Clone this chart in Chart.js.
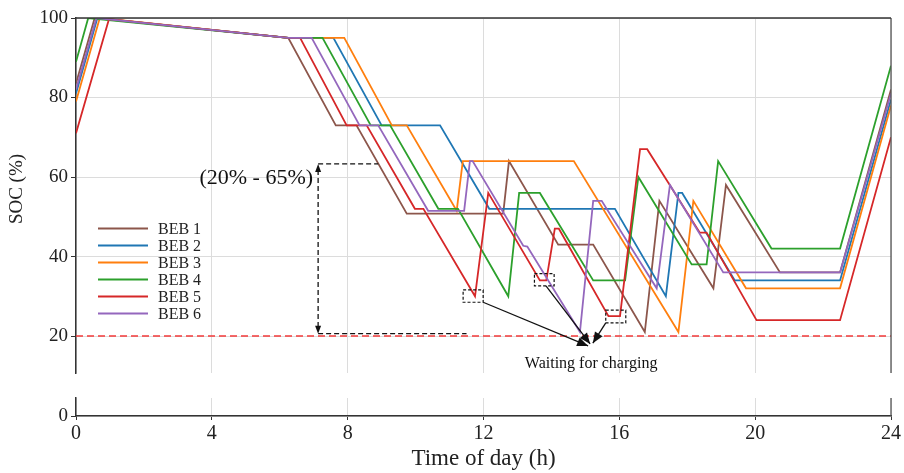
<!DOCTYPE html>
<html><head><meta charset="utf-8">
<script src="https://cdn.jsdelivr.net/npm/chart.js@4.4.1/dist/chart.umd.min.js"></script>
<style>
html,body{margin:0;padding:0;background:#fff;}
#wrap{position:relative;width:904px;height:473px;overflow:hidden;}
canvas{position:absolute;left:0;}
#top{top:0;width:904px;height:380px;}
#bot{top:380px;width:904px;height:93px;}
</style></head><body>
<div id="wrap"><canvas id="top" width="904" height="380"></canvas><canvas id="bot" width="904" height="93"></canvas></div>
<script>
// ---------- data ----------
const seriesNames  = ['BEB 1','BEB 2','BEB 3','BEB 4','BEB 5','BEB 6'];
const seriesColors = ['#8c564b','#1f77b4','#ff7f0e','#2ca02c','#d62728','#9467bd'];

const beb1Hours = [0, 0.55, 6.25, 7.65, 8.26, 9.74, 12.58, 12.75, 14.2, 15.23, 16.75, 17.18, 18.77, 19.14, 20.73, 22.5, 24];
const beb1Soc   = [83.5, 100, 95, 73, 73, 50.8, 50.8, 64, 43, 43, 21, 54, 32, 58, 36, 36, 82];

const beb2Hours = [0, 0.63, 6.25, 7.58, 9.0, 10.72, 12.17, 15.87, 17.37, 17.74, 17.85, 19.4, 22.5, 24];
const beb2Soc   = [81, 100, 95, 95, 73, 73, 52, 52, 30, 56, 56, 34, 34, 79.5];

const beb3Hours = [0, 0.7, 6.25, 7.9, 9.3, 9.74, 11.21, 11.39, 14.66, 17.74, 18.18, 19.73, 22.5, 24];
const beb3Soc   = [79, 100, 95, 95, 73, 73, 51.5, 64, 64, 21, 54, 32, 32, 78];

const beb4Hours = [0, 0.36, 6.25, 7.26, 8.68, 9.25, 10.67, 11.25, 12.73, 13.05, 13.66, 15.23, 16.17, 16.56, 18.13, 18.57, 18.91, 20.48, 22.5, 24];
const beb4Soc   = [89, 100, 95, 95, 73, 73, 52, 52, 30, 56, 56, 34, 34, 60, 38, 38, 64, 42, 42, 88];

const beb5Hours = [0, 0.97, 6.25, 6.6, 7.97, 8.56, 9.98, 10.23, 11.75, 12.14, 13.66, 13.85, 14.1, 14.22, 15.68, 16.02, 16.61, 16.82, 18.37, 18.57, 20.04, 22.5, 24];
const beb5Soc   = [71, 99.7, 95, 95, 73, 73, 52, 52, 30, 56, 34, 34, 47, 47, 25, 25, 67, 67, 46, 46, 24, 24, 70];

const beb6Hours = [0, 0.6, 6.25, 6.94, 8.35, 8.9, 10.37, 11.43, 11.6, 11.68, 13.17, 13.29, 14.84, 15.23, 15.48, 17.1, 17.49, 19.06, 22.5, 24];
const beb6Soc   = [82, 100, 95, 95, 73, 73, 51.5, 51.5, 64, 64, 42.7, 42.5, 21, 54, 54, 32, 58, 36, 36, 81];

const xTicks      = [0, 4, 8, 12, 16, 20, 24];
const yTicksUpper = [20, 40, 60, 80, 100];
const yTicksLower = [0];
const socLimit    = 20;

// annotation anchors (data units)
const rangeText   = '(20% - 65%)';
const rangeHour   = 7.13, rangeTop = 63.3, rangeBottom = 20.6, rangeTopEnd = 8.9, rangeBottomEnd = 11.5;
const rangeLabelHour = 6.98, rangeLabelSoc = 59.6;
const waitBoxes   = [[11.4, 11.99, 28.5, 31.6], [13.5, 14.08, 32.6, 35.7], [15.6, 16.19, 23.3, 26.5]];
const waitFrom    = [[11.99, 28.5], [13.84, 32.6], [15.6, 23.3]];
const waitTo      = [[15.08, 17.5], [15.14, 18.0], [15.22, 18.2]];
const waitText    = 'Waiting for charging';
const waitTextHour = 15.17, waitTextSoc = 12.9;

// ---------- chart ----------
const FONT = "'Liberation Serif','Times New Roman','DejaVu Serif',serif";
const allHours = [beb1Hours, beb2Hours, beb3Hours, beb4Hours, beb5Hours, beb6Hours];
const allSoc   = [beb1Soc, beb2Soc, beb3Soc, beb4Soc, beb5Soc, beb6Soc];

const datasets = seriesNames.map((name, i) => ({
  label: name,
  data: allHours[i].map((h, j) => ({x: h, y: allSoc[i][j]})),
  borderColor: seriesColors[i],
  backgroundColor: seriesColors[i],
  borderWidth: 1.8,
  pointRadius: 0,
  tension: 0,
  fill: false,
  order: 10 - i
}));

function arrowHead(ctx, x1, y1, x2, y2, len, w) {
  const a = Math.atan2(y2 - y1, x2 - x1);
  ctx.beginPath();
  ctx.moveTo(x2, y2);
  ctx.lineTo(x2 - len * Math.cos(a) + w * Math.sin(a), y2 - len * Math.sin(a) - w * Math.cos(a));
  ctx.lineTo(x2 - len * Math.cos(a) - w * Math.sin(a), y2 - len * Math.sin(a) + w * Math.cos(a));
  ctx.closePath();
  ctx.fill();
}

const frameRight = {
  id: 'frameRight',
  afterDraw(chart, args, opts) {
    const {ctx, chartArea: a} = chart;
    ctx.save();
    ctx.strokeStyle = '#555';
    ctx.lineWidth = 1.3;
    ctx.beginPath();
    ctx.moveTo(a.right, a.top); ctx.lineTo(a.right, a.bottom);
    ctx.stroke();
    if (opts && opts.top) {
      ctx.strokeStyle = '#333';
      ctx.lineWidth = 1.5;
      ctx.beginPath();
      ctx.moveTo(a.left, a.top); ctx.lineTo(a.right, a.top);
      ctx.stroke();
    }
    ctx.restore();
  }
};

const annot = {
  id: 'annot',
  beforeDatasetsDraw(chart) {
    const {ctx, chartArea: a, scales: {y}} = chart;
    ctx.save();
    ctx.strokeStyle = '#f23a3a';
    ctx.lineWidth = 1.6;
    ctx.setLineDash([7, 4]);
    ctx.beginPath();
    ctx.moveTo(a.left, y.getPixelForValue(socLimit));
    ctx.lineTo(a.right, y.getPixelForValue(socLimit));
    ctx.stroke();
    ctx.restore();
  },
  afterDraw(chart) {
    const {ctx, scales: {x, y}} = chart;
    const px = v => x.getPixelForValue(v), py = v => y.getPixelForValue(v);
    ctx.save();
    // range bracket
    ctx.strokeStyle = '#111'; ctx.fillStyle = '#111';
    ctx.lineWidth = 1.3;
    ctx.setLineDash([5, 3]);
    ctx.beginPath();
    ctx.moveTo(px(rangeHour), py(rangeTop) + 6); ctx.lineTo(px(rangeHour), py(rangeBottom) - 6);
    ctx.moveTo(px(rangeHour), py(rangeTop)); ctx.lineTo(px(rangeTopEnd), py(rangeTop));
    ctx.moveTo(px(rangeHour), py(rangeBottom)); ctx.lineTo(px(rangeBottomEnd), py(rangeBottom));
    ctx.stroke();
    ctx.setLineDash([]);
    arrowHead(ctx, px(rangeHour), py(rangeTop) + 10, px(rangeHour), py(rangeTop), 8, 3);
    arrowHead(ctx, px(rangeHour), py(rangeBottom) - 10, px(rangeHour), py(rangeBottom), 8, 3);
    ctx.font = `22px ${FONT}`;
    ctx.textAlign = 'right'; ctx.textBaseline = 'middle';
    ctx.fillText(rangeText, px(rangeLabelHour), py(rangeLabelSoc));
    // waiting boxes
    ctx.lineWidth = 1.2;
    ctx.setLineDash([3, 2]);
    waitBoxes.forEach(b => {
      ctx.strokeRect(px(b[0]), py(b[3]), px(b[1]) - px(b[0]), py(b[2]) - py(b[3]));
    });
    ctx.setLineDash([]);
    ctx.lineWidth = 1.3;
    waitFrom.forEach((f, i) => {
      const t = waitTo[i];
      ctx.beginPath();
      ctx.moveTo(px(f[0]), py(f[1])); ctx.lineTo(px(t[0]), py(t[1]));
      ctx.stroke();
      arrowHead(ctx, px(f[0]), py(f[1]), px(t[0]), py(t[1]), 11, 4.5);
    });
    ctx.font = `16px ${FONT}`;
    ctx.textAlign = 'center'; ctx.textBaseline = 'middle';
    ctx.fillText(waitText, px(waitTextHour), py(waitTextSoc));
    // y title
    ctx.save();
    ctx.translate(17, 189);
    ctx.rotate(-Math.PI / 2);
    ctx.font = `19px ${FONT}`;
    ctx.fillStyle = '#222';
    ctx.fillText('SOC (%)', 0, 0);
    ctx.restore();
    // legend
    ctx.font = `16px ${FONT}`;
    ctx.textAlign = 'left'; ctx.textBaseline = 'middle';
    seriesNames.forEach((n, i) => {
      const ly = 228.5 + i * 17;
      ctx.strokeStyle = seriesColors[i];
      ctx.lineWidth = 2;
      ctx.beginPath(); ctx.moveTo(98, ly); ctx.lineTo(148, ly); ctx.stroke();
      ctx.fillStyle = '#222';
      ctx.fillText(n, 158, ly + 1);
    });
    ctx.restore();
  }
};

const setTicks = arr => s => { s.ticks = arr.map(v => ({value: v})); };
const GRID = '#dcdcdc';

new Chart(document.getElementById('top'), {
  type: 'line',
  data: {datasets},
  options: {
    responsive: false, animation: false, devicePixelRatio: 1,
    layout: {padding: {left: 0, right: 13, top: 18, bottom: 7}},
    plugins: {legend: {display: false}, tooltip: {enabled: false}, frameRight: {top: true}},
    scales: {
      x: {type: 'linear', min: 0, max: 24, afterBuildTicks: setTicks(xTicks),
          ticks: {display: false}, grid: {color: GRID, lineWidth: 1, drawTicks: false},
          border: {display: false},
          afterFit: s => { s.height = 0; s.paddingLeft = 0; s.paddingRight = 0; }},
      y: {type: 'linear', min: 10.7, max: 100, afterBuildTicks: setTicks(yTicksUpper),
          ticks: {font: {family: FONT, size: 19}, color: '#222', padding: 3},
          grid: {color: GRID, tickColor: '#333', tickLength: 5},
          border: {color: '#333', width: 1.5},
          afterFit: s => { s.width = 76; s.paddingTop = 0; s.paddingBottom = 0; }}
    }
  },
  plugins: [annot, frameRight]
});

new Chart(document.getElementById('bot'), {
  type: 'line',
  data: {datasets: []},
  options: {
    responsive: false, animation: false, devicePixelRatio: 1,
    layout: {padding: {left: 0, right: 13, top: 18, bottom: 0}},
    plugins: {legend: {display: false}, tooltip: {enabled: false}, frameRight: {top: false}},
    scales: {
      x: {type: 'linear', min: 0, max: 24, afterBuildTicks: setTicks(xTicks),
          ticks: {font: {family: FONT, size: 20}, color: '#222', padding: 2, maxRotation: 0},
          grid: {color: GRID, tickColor: '#333', tickLength: 4},
          border: {color: '#333', width: 1.5},
          title: {display: true, text: 'Time of day (h)', font: {family: FONT, size: 23}, color: '#222', padding: {top: 0, bottom: 0}},
          afterFit: s => { s.height = 57; }},
      y: {type: 'linear', min: 0, max: 4.53, afterBuildTicks: setTicks(yTicksLower),
          ticks: {font: {family: FONT, size: 19}, color: '#222', padding: 3},
          grid: {color: GRID, tickColor: '#333', tickLength: 5},
          border: {color: '#333', width: 1.5},
          afterFit: s => { s.width = 76; s.paddingTop = 0; s.paddingBottom = 0; }}
    }
  },
  plugins: [frameRight]
});
</script>
</body></html>
